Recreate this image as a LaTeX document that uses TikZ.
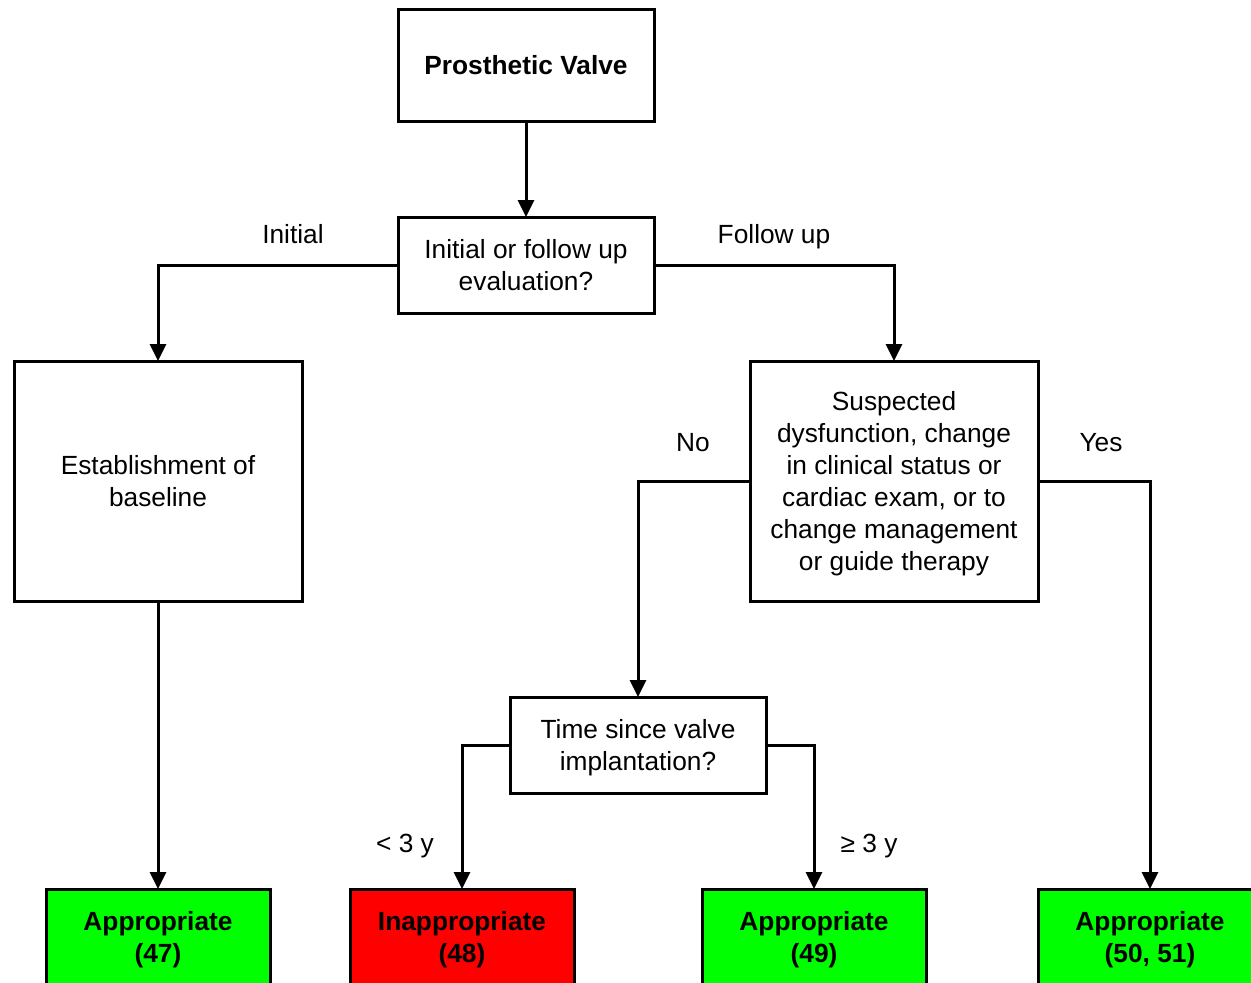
\documentclass[tikz,border=0pt]{standalone}
\usepackage{fontspec}
\setmainfont{Liberation Sans}
\usetikzlibrary{arrows.meta}
\definecolor{okgreen}{HTML}{00FF00}
\definecolor{badred}{HTML}{FF0000}
\begin{document}
\begin{tikzpicture}[x=1pt,y=-1pt,
  every node/.style={inner sep=0pt,outer sep=0pt,font=\fontsize{26.3}{32}\selectfont,align=center,text depth=-2pt},
  box/.style={draw,line width=3pt,fill=white},
  boldbox/.style={box,font=\fontsize{26.3}{32}\selectfont\bfseries},
  okbox/.style={boldbox,fill=okgreen,minimum width=224pt,minimum height=96pt},
  badbox/.style={boldbox,fill=badred,minimum width=224pt,minimum height=96pt},
  arr/.style={line width=3pt,-{Triangle[width=16pt,length=17pt]}}]
\fill[white] (0,0) rectangle (1251,983);
\useasboundingbox (0,0) rectangle (1251,983);
\clip (0,0) rectangle (1251,983);

% decision boxes
\node[boldbox,minimum width=256pt,minimum height=112pt] (pv) at (526,65) {Prosthetic Valve};
\node[box,minimum width=256pt,minimum height=96pt] (init) at (526,265) {Initial or follow up\\evaluation?};
\node[box,minimum width=288pt,minimum height=240pt] (est) at (158,481) {Establishment of\\baseline};
\node[box,minimum width=288pt,minimum height=240pt] (susp) at (894,481) {Suspected\\dysfunction, change\\in clinical status or\\cardiac exam, or to\\change management\\or guide therapy};
\node[box,minimum width=256pt,minimum height=96pt] (time) at (638,745) {Time since valve\\implantation?};

% outcome boxes (cut off by the lower and right edges)
\node[okbox] (a47) at (158,937) {Appropriate\\(47)};
\node[badbox] (i48) at (462,937) {Inappropriate\\(48)};
\node[okbox] (a49) at (814,937) {Appropriate\\(49)};
\node[okbox] (a50) at (1150,937) {Appropriate\\(50, 51)};

% connectors
\draw[arr] (pv.south) -- (init.north);
\draw[arr] (init.west) -| (est.north);
\draw[arr] (init.east) -| (susp.north);
\draw[arr] (est.south) -- (a47.north);
\draw[arr] (susp.west) -| (time.north);
\draw[arr] (susp.east) -| (a50.north);
\draw[arr] (time.west) -| (i48.north);
\draw[arr] (time.east) -| (a49.north);

% branch labels
\node (lInit) at (293,234) {Initial};
\node (lFol) at (774,234) {Follow up};
\node (lNo) at (693,442) {No};
\node (lYes) at (1101,442) {Yes};
\node (lLt) at (405,843) {< 3 y};
\node (lGe) at (869,843) {≥ 3 y};
\end{tikzpicture}
\end{document}
